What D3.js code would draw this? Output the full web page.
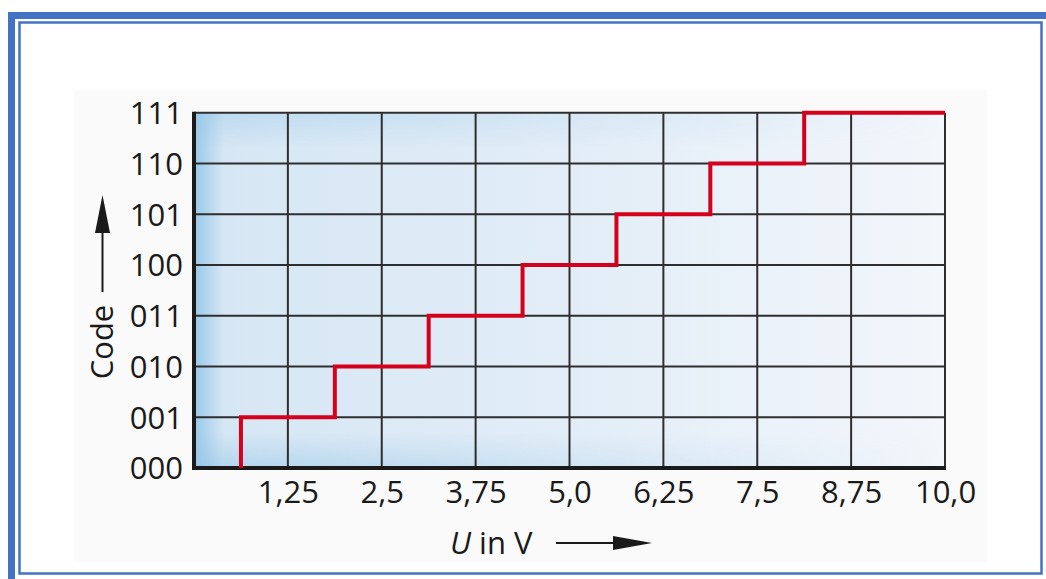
<!DOCTYPE html>
<html><head><meta charset="utf-8">
<script src="https://cdn.jsdelivr.net/npm/d3@7"></script>
<style>html,body{margin:0;padding:0;background:#fff;}svg{display:block;}</style>
</head><body>
<script>
const yCodes = ["000","001","010","011","100","101","110","111"];
const xTicks = [1.25, 2.5, 3.75, 5.0, 6.25, 7.5, 8.75, 10.0];
const xTickLabels = ["1,25","2,5","3,75","5,0","6,25","7,5","8,75","10,0"];
// step thresholds (V) where the code increments, and code index after each
const stepX = [0.625, 1.875, 3.125, 4.375, 5.625, 6.875, 8.125, 10.0];
const stepCode = [1, 2, 3, 4, 5, 6, 7, 7];

const W = 1046, H = 579;
const svg = d3.select("body").append("svg").attr("width", W).attr("height", H);
const defs = svg.append("defs");

// frame
svg.append("rect").attr("x",11.5).attr("y",15.5).attr("width",1040).attr("height",570)
  .attr("fill","none").attr("stroke","#4472c4").attr("stroke-width",7);
svg.append("rect").attr("x",19.5).attr("y",22.5).attr("width",1022).attr("height",551)
  .attr("fill","none").attr("stroke","#4472c4").attr("stroke-width",2.5);
// panel
svg.append("rect").attr("x",74).attr("y",90).attr("width",913).attr("height",472).attr("fill","#fafafa");

const m = {l:194, r:945, t:112.7, b:468};
const x = d3.scaleLinear().domain([0,10]).range([m.l, m.r]);
const y = d3.scaleLinear().domain([0,7]).range([m.b, m.t]);

// gradients
const g1 = defs.append("linearGradient").attr("id","gh").attr("x1",0).attr("x2",1).attr("y1",0).attr("y2",0);
g1.append("stop").attr("offset","0").attr("stop-color","#d5e6f4");
g1.append("stop").attr("offset","0.5").attr("stop-color","#e2edf7");
g1.append("stop").attr("offset","1").attr("stop-color","#f3f6fb");
const gl = defs.append("linearGradient").attr("id","gl").attr("x1",0).attr("x2",1).attr("y1",0).attr("y2",0);
gl.append("stop").attr("offset","0").attr("stop-color","#92c5e7").attr("stop-opacity",0.9);
gl.append("stop").attr("offset","1").attr("stop-color","#92c5e7").attr("stop-opacity",0);
const gb = defs.append("linearGradient").attr("id","gb").attr("x1",0).attr("x2",0).attr("y1",1).attr("y2",0);
gb.append("stop").attr("offset","0").attr("stop-color","#92c5e7").attr("stop-opacity",0.55);
gb.append("stop").attr("offset","1").attr("stop-color","#92c5e7").attr("stop-opacity",0);
const gt = defs.append("linearGradient").attr("id","gt").attr("x1",0).attr("x2",0).attr("y1",0).attr("y2",1);
gt.append("stop").attr("offset","0").attr("stop-color","#9ccbea").attr("stop-opacity",0.45);
gt.append("stop").attr("offset","1").attr("stop-color","#9ccbea").attr("stop-opacity",0);
const gbr = defs.append("linearGradient").attr("id","gbx").attr("x1",0).attr("x2",1).attr("y1",0).attr("y2",0);
gbr.append("stop").attr("offset","0").attr("stop-color","#fff").attr("stop-opacity",1);
gbr.append("stop").attr("offset","0.5").attr("stop-color","#fff").attr("stop-opacity",0.4);
gbr.append("stop").attr("offset","1").attr("stop-color","#fff").attr("stop-opacity",0);
const mask = defs.append("mask").attr("id","mb");
mask.append("rect").attr("x",m.l).attr("y",m.t).attr("width",m.r-m.l).attr("height",m.b-m.t).attr("fill","url(#gbx)");

const pw = m.r-m.l, ph = m.b-m.t;
svg.append("rect").attr("x",m.l).attr("y",m.t).attr("width",pw).attr("height",ph).attr("fill","url(#gh)");
svg.append("rect").attr("x",m.l).attr("y",m.t).attr("width",pw).attr("height",35).attr("fill","url(#gt)").attr("mask","url(#mb)");
svg.append("rect").attr("x",m.l).attr("y",m.b-35).attr("width",pw).attr("height",35).attr("fill","url(#gb)").attr("mask","url(#mb)");
svg.append("rect").attr("x",m.l).attr("y",m.t).attr("width",30).attr("height",ph).attr("fill","url(#gl)");

// grid
const grid = svg.append("g").attr("stroke","#2e2e2e").attr("stroke-width",2);
grid.selectAll("line.v").data(xTicks).join("line").attr("class","v")
  .attr("x1",d=>x(d)).attr("x2",d=>x(d)).attr("y1",m.t).attr("y2",m.b);
grid.selectAll("line.h").data(d3.range(1,yCodes.length)).join("line").attr("class","h")
  .attr("x1",m.l).attr("x2",m.r).attr("y1",d=>y(d)).attr("y2",d=>y(d));
// axes frame
svg.append("line").attr("x1",m.l).attr("x2",m.l).attr("y1",m.t-1).attr("y2",m.b+2).attr("stroke","#1a1a1a").attr("stroke-width",4);
svg.append("line").attr("x1",m.l-2).attr("x2",m.r+1).attr("y1",m.b).attr("y2",m.b).attr("stroke","#1a1a1a").attr("stroke-width",4);

// step line
const pts = [[stepX[0],0]];
let prev = 0;
stepX.forEach((sx,i)=>{ if (i>0) pts.push([sx,prev]); if (stepCode[i]!==prev) pts.push([sx,stepCode[i]]); prev = stepCode[i]; });
const line = d3.line().x(d=>x(d[0])).y(d=>y(d[1]));
svg.append("path").attr("d", line(pts))
  .attr("fill","none").attr("stroke","#d5001c").attr("stroke-width",4).attr("stroke-linejoin","miter").attr("stroke-linecap","butt");

// axes labels via d3 axes
const font = "'Open Sans', sans-serif";
const fs = 31;
const yAxis = d3.axisLeft(y).tickValues(d3.range(yCodes.length)).tickFormat(i=>yCodes[i]).tickSize(0).tickPadding(11);
const ya = svg.append("g").attr("transform",`translate(${m.l},0)`).call(yAxis);
ya.select(".domain").remove();
ya.selectAll("text").attr("font-family",font).attr("font-size",fs).attr("fill","#1a1a1a").attr("dy","0.35em");
const xAxis = d3.axisBottom(x).tickValues(xTicks).tickFormat((d,i)=>xTickLabels[i]).tickSize(0).tickPadding(13);
const xa = svg.append("g").attr("transform",`translate(0,${m.b})`).call(xAxis);
xa.select(".domain").remove();
xa.selectAll("text").attr("font-family",font).attr("font-size",fs).attr("fill","#1a1a1a");

// x title
const xt = svg.append("text").attr("x",450).attr("y",554).attr("font-family",font).attr("font-size",fs).attr("fill","#1a1a1a");
xt.append("tspan").attr("font-style","italic").text("U");
xt.append("tspan").text(" in V");
svg.append("line").attr("x1",556).attr("x2",615).attr("y1",543).attr("y2",543).attr("stroke","#1a1a1a").attr("stroke-width",2);
svg.append("path").attr("d","M613,536 L652,543 L613,550 Z").attr("fill","#1a1a1a");

// y title
svg.append("text").attr("transform","translate(113,342) rotate(-90)").attr("text-anchor","middle")
  .attr("font-family",font).attr("font-size",fs).attr("fill","#1a1a1a").text("Code");
svg.append("line").attr("x1",102.5).attr("x2",102.5).attr("y1",292).attr("y2",230).attr("stroke","#1a1a1a").attr("stroke-width",2);
svg.append("path").attr("d","M95,233 L102.5,195 L110,233 Z").attr("fill","#1a1a1a");
</script>
</body></html>
